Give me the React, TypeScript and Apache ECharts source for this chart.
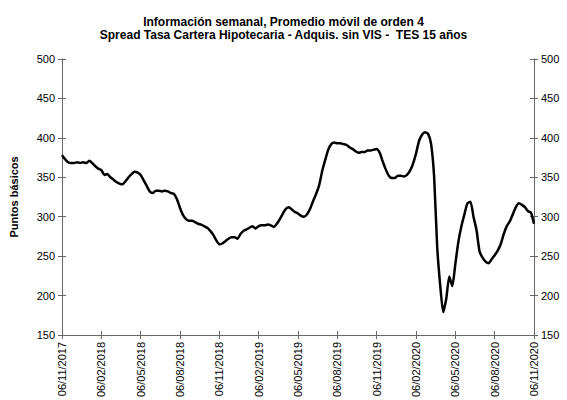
import React, { useEffect, useRef } from "react";
import * as echarts from "echarts";

const titleLines = [
  "Información semanal, Promedio móvil de orden 4",
  "Spread Tasa Cartera Hipotecaria - Adquis. sin VIS -  TES 15 años",
];
const yAxisName = "Puntos básicos";

const tickLabels = [
  "06/11/2017", "06/02/2018", "06/05/2018", "06/08/2018", "06/11/2018",
  "06/02/2019", "06/05/2019", "06/08/2019", "06/11/2019", "06/02/2020",
  "06/05/2020", "06/08/2020", "06/11/2020",
];

// weekly values, week 0 = 06/11/2017
const spreadWeekly = [
  378, 373, 369, 368, 368, 369, 368, 369, 368, 371,
  368, 364, 361, 359, 353, 354, 350, 347, 344, 342,
  341, 345, 350, 354, 357, 356, 353, 346, 339, 332,
  330, 333, 333, 332, 333, 332, 330, 329, 322, 311,
  302, 297, 295, 295, 293, 291, 290, 288, 286, 282,
  277, 270, 265, 266, 269, 272, 274, 274, 272, 278,
  282, 284, 286, 288, 285, 288, 289, 289, 290, 289,
  287, 291, 297, 304, 310, 312, 309, 306, 304, 301,
  300, 303, 310, 320, 329, 340, 358, 372, 385, 392,
  394, 393, 393, 392, 391, 388, 386, 383, 381, 382,
  382, 384, 384, 385, 386, 381, 370, 360, 352, 349,
  349, 352, 352, 351, 353, 358, 367, 380, 396, 404,
  407, 405, 392, 350, 262, 213, 179, 196, 224, 212,
  240, 268, 288, 303, 317, 319, 300, 283, 256, 248,
  243, 241, 246, 251, 257, 265, 278, 288, 294, 303,
  312, 317, 315, 312, 307, 305, 291,
];

const WEEKS_PER_TICK = 13;

export default function App() {
  const ref = useRef<HTMLDivElement>(null);

  useEffect(() => {
    if (!ref.current) return;
    const chart = echarts.init(ref.current, undefined, { renderer: "svg" });
    const font = "'Liberation Sans', Arial, sans-serif";
    const axisColor = "#666";
    const xMax = (tickLabels.length - 1) * WEEKS_PER_TICK;

    const baseX = {
      type: "value" as const,
      min: 0,
      max: xMax,
      interval: WEEKS_PER_TICK,
      position: "bottom" as const,
      splitLine: { show: false },
      axisLine: { show: true, onZero: false, lineStyle: { color: axisColor, width: 1 } },
    };
    const baseY = {
      type: "value" as const,
      min: 150,
      max: 500,
      interval: 50,
      splitLine: { show: false },
      axisLine: { show: true, lineStyle: { color: axisColor, width: 1 } },
    };
    const yLabel = { show: true, color: "#000", fontSize: 11, fontFamily: font, margin: 7 };

    chart.setOption({
      animation: false,
      backgroundColor: "#fff",
      title: {
        text: titleLines.join("\n"),
        left: "center",
        top: 10,
        textStyle: {
          fontSize: 12,
          fontWeight: "bold",
          fontFamily: font,
          color: "#000",
          lineHeight: 13,
        },
      },
      grid: { left: 62, right: 33, top: 59, bottom: 60 },
      xAxis: [
        {
          ...baseX,
          axisTick: { show: true, inside: false, length: 4, lineStyle: { color: axisColor } },
          axisLabel: {
            show: true,
            rotate: 90,
            fontSize: 11,
            fontFamily: font,
            color: "#000",
            margin: 7,
            formatter: (v: number) => tickLabels[Math.round(v / WEEKS_PER_TICK)] ?? "",
          },
        },
        {
          ...baseX,
          axisTick: { show: true, inside: true, length: 4, lineStyle: { color: axisColor } },
          axisLabel: { show: false },
        },
      ],
      yAxis: [
        {
          ...baseY,
          position: "left",
          name: yAxisName,
          nameLocation: "middle",
          nameGap: 43,
          nameTextStyle: { fontSize: 11, fontWeight: "bold", fontFamily: font, color: "#000" },
          axisTick: { show: true, inside: false, length: 4, lineStyle: { color: axisColor } },
          axisLabel: yLabel,
        },
        {
          ...baseY,
          position: "left",
          axisTick: { show: true, inside: true, length: 4, lineStyle: { color: axisColor } },
          axisLabel: { show: false },
        },
        {
          ...baseY,
          position: "right",
          axisTick: { show: true, inside: false, length: 4, lineStyle: { color: axisColor } },
          axisLabel: yLabel,
        },
        {
          ...baseY,
          position: "right",
          axisTick: { show: true, inside: true, length: 4, lineStyle: { color: axisColor } },
          axisLabel: { show: false },
        },
      ],
      series: [
        {
          type: "line",
          xAxisIndex: 0,
          yAxisIndex: 0,
          data: spreadWeekly.map((v, i) => [i, v]),
          showSymbol: false,
          symbol: "none",
          smooth: 0.2,
          lineStyle: { color: "#000", width: 2.5 },
          itemStyle: { color: "#000" },
        },
      ],
    });
    return () => chart.dispose();
  }, []);

  return (
    <div
      ref={ref}
      style={{ position: "fixed", left: 0, top: 0, width: 567, height: 400, background: "#fff" }}
    />
  );
}
